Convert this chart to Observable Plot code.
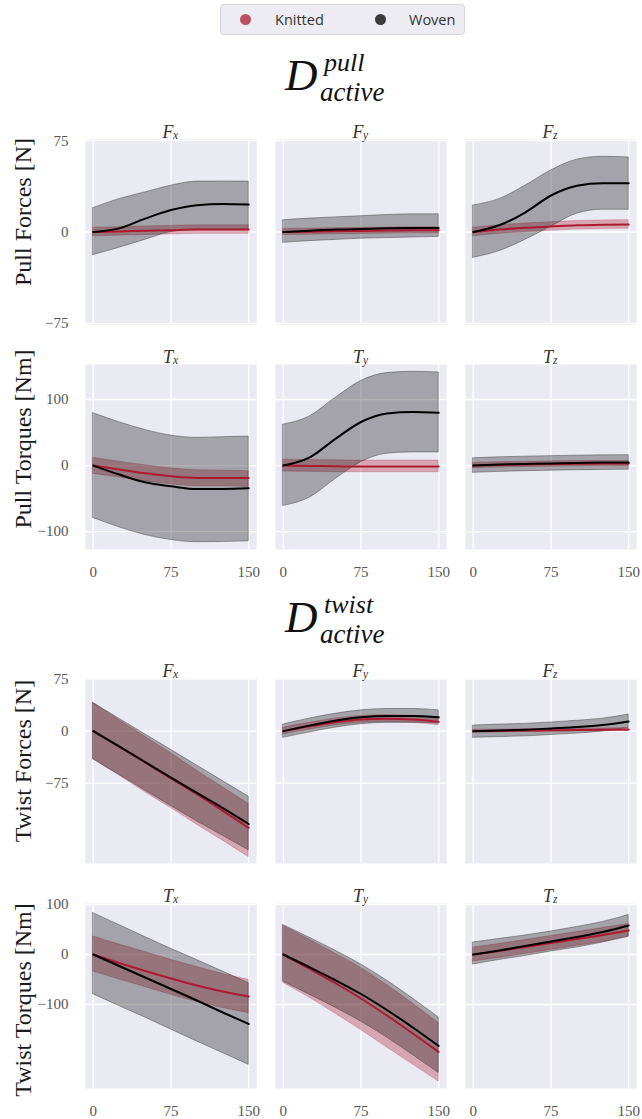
<!DOCTYPE html>
<html><head><meta charset="utf-8">
<script src="https://cdn.jsdelivr.net/npm/d3@7"></script>
<script src="https://cdn.jsdelivr.net/npm/@observablehq/plot@0.6"></script>
<style>
body{margin:0;background:#fff;}
#fig{position:relative;width:642px;height:1119px;overflow:hidden;background:#fff;}
.abs{position:absolute;left:0;}
#legend{position:absolute;left:220px;top:4px;width:243px;height:29px;background:#ECECF2;border:1px solid #D4D4DC;border-radius:4px;font-family:"Open Sans",sans-serif;font-size:14.5px;color:#333;}
#legend .dot{position:absolute;top:9px;width:11px;height:11px;border-radius:50%;}
#legend .lab{position:absolute;top:5px;line-height:19px;}
.rowlabel{font-family:"Liberation Serif",serif !important;font-size:24px !important;}
</style></head><body><div id="fig"></div>
<script>
const KNIT = "#AC1A32";
const WOVEN = "#000000";
const T = [0, 25, 50, 75, 100, 125, 150];
const xTicks = [0, 75, 150];
const groups = ["Knitted", "Woven"];

// ---- D_active^pull : forces [N]
const pullFxWovenMean = [0, 3, 11, 18, 22, 23, 22.5];
const pullFxWovenLo   = [-19, -13, -6.5, 0, 2, 2, 2];
const pullFxWovenHi   = [19.6, 27, 32.5, 38, 41.4, 41.5, 41.4];
const pullFxKnitMean  = [0, 0.5, 1, 1.5, 2, 2, 2];
const pullFxKnitLo    = [-3.5, -3, -2.5, -2, -1.5, -1.5, -1.5];
const pullFxKnitHi    = [3.5, 4, 4.5, 5, 5.5, 5.5, 5.5];

const pullFyWovenMean = [0, 1, 2, 2.5, 3, 3.2, 3.2];
const pullFyWovenLo   = [-8.9, -7.5, -6.5, -5.5, -5, -4.5, -4];
const pullFyWovenHi   = [9.7, 11, 12, 13, 14, 14.5, 14.5];
const pullFyKnitMean  = [0, 0.3, 0.6, 0.9, 1.2, 1.4, 1.5];
const pullFyKnitLo    = [-2.5, -2.2, -1.9, -1.6, -1.3, -1.1, -1];
const pullFyKnitHi    = [2.5, 2.8, 3.1, 3.4, 3.7, 3.9, 4];

const pullFzWovenMean = [0, 5.5, 16, 30, 38, 40, 40];
const pullFzWovenLo   = [-21.2, -15.8, -6.5, 4.3, 15, 18.3, 18.3];
const pullFzWovenHi   = [21.8, 27, 37.9, 50.5, 59.4, 61.8, 61.3];
const pullFzKnitMean  = [0, 2, 3.5, 4.5, 5.5, 6, 6.2];
const pullFzKnitLo    = [-3.5, -1.5, 0, 1, 2, 2.5, 2.7];
const pullFzKnitHi    = [3.5, 5.5, 7, 8, 9, 9.5, 9.7];

// ---- D_active^pull : torques [Nm]
const pullTxWovenMean = [0, -13.6, -25.3, -31.3, -35.5, -35.3, -34.3];
const pullTxWovenLo   = [-79.3, -93.4, -105, -112.6, -116, -115.6, -114.6];
const pullTxWovenHi   = [79.3, 65.7, 54, 45.5, 42, 43, 44];
const pullTxKnitMean  = [0, -6, -11.6, -16.2, -18.7, -18.7, -18.7];
const pullTxKnitLo    = [-12.6, -18, -23.6, -28.2, -31, -31, -32.8];
const pullTxKnitHi    = [11.6, 6, 0.4, -4.2, -7, -7.5, -8.6];

const pullTyWovenMean = [0, 12, 40, 66, 79, 81, 80];
const pullTyWovenLo   = [-61, -49, -21, 5, 18, 20, 20];
const pullTyWovenHi   = [62, 74, 102, 128, 140, 142, 141];
const pullTyKnitMean  = [0, -0.5, -1, -1.5, -1.5, -1.5, -1.5];
const pullTyKnitLo    = [-9, -9.5, -10, -10, -10, -10, -10];
const pullTyKnitHi    = [9, 8.5, 8, 7.6, 7.6, 7.6, 7.6];

const pullTzWovenMean = [0, 1.5, 2.5, 3.3, 4, 4.5, 4.8];
const pullTzWovenLo   = [-11, -9.5, -8.5, -7.7, -7, -6.5, -6.2];
const pullTzWovenHi   = [11, 12.5, 13.5, 14.3, 15, 15.5, 15.8];
const pullTzKnitMean  = [0, 1, 1.8, 2.4, 2.8, 3, 3];
const pullTzKnitLo    = [-4, -3, -2.2, -1.6, -1.2, -1, -1];
const pullTzKnitHi    = [4, 5, 5.8, 6.4, 6.8, 7, 7];

// ---- D_active^twist : forces [N]
const twistFxWovenMean = [0, -22, -44.5, -67, -89, -111, -134];
const twistFxWovenLo   = [-40.6, -63, -85.5, -108, -130, -151, -172];
const twistFxWovenHi   = [40.6, 18, -4.5, -27, -49.5, -72, -94.6];
const twistFxKnitMean  = [0, -22.5, -45, -68, -91, -115, -139.5];
const twistFxKnitLo    = [-40.6, -64, -88, -111, -135, -158, -181.7];
const twistFxKnitHi    = [41, 16, -8, -32, -57, -81, -105];

const twistFyWovenMean = [0, 8, 15, 20, 22, 22, 20];
const twistFyWovenLo   = [-9.6, -2, 5, 10, 12, 12, 11];
const twistFyWovenHi   = [9.6, 18, 25, 30, 32, 32, 30];
const twistFyKnitMean  = [0, 7, 13, 17, 18, 17, 13.4];
const twistFyKnitLo    = [-5, 2, 8, 12, 13, 12, 8.4];
const twistFyKnitHi    = [5, 12, 18, 22, 23, 22, 18.4];

const twistFzWovenMean = [0, 1, 2, 4, 6, 9, 14];
const twistFzWovenLo   = [-9.6, -8.5, -7.5, -5.5, -3.5, -0.5, 4.8];
const twistFzWovenHi   = [8, 9.5, 10.5, 12.5, 15, 18, 24];
const twistFzKnitMean  = [0, 0.4, 0.8, 1.2, 1.6, 2, 2.4];
const twistFzKnitLo    = [-2, -1.6, -1.2, -0.8, -0.4, 0, 0.4];
const twistFzKnitHi    = [2, 2.4, 2.8, 3.2, 3.6, 4, 4.4];

// ---- D_active^twist : torques [Nm]
const twistTxWovenMean = [0, -23, -46, -69, -92, -116, -139];
const twistTxWovenLo   = [-79.3, -103, -126, -150, -174, -197, -220.7];
const twistTxWovenHi   = [82.7, 59, 35, 11.3, -11, -34, -57.3];
const twistTxKnitMean  = [0, -17, -33, -48, -62, -74, -84];
const twistTxKnitLo    = [-34, -50, -65, -80.7, -95, -107, -117.3];
const twistTxKnitHi    = [36, 20, 5, -10.7, -25, -39, -50.7];

const twistTyWovenMean = [0, -25, -51, -79, -111, -146, -183];
const twistTyWovenLo   = [-54, -80, -106, -134, -166, -201, -237];
const twistTyWovenHi   = [59, 34, 8, -20, -52, -88, -126];
const twistTyKnitMean  = [0, -28, -57, -88, -122, -158, -195];
const twistTyKnitLo    = [-57, -86, -118, -151, -186, -220, -254];
const twistTyKnitHi    = [57, 30, 2, -27, -61, -98, -137];

const twistTzWovenMean = [0, 8, 17, 26, 35, 45, 58];
const twistTzWovenLo   = [-20, -11, -3, 6, 14, 24, 36];
const twistTzWovenHi   = [24, 31, 38, 46, 55, 65, 79];
const twistTzKnitMean  = [0, 7, 15, 23, 31, 39, 48];
const twistTzKnitLo    = [-14, -7, 1, 9, 17, 25, 35];
const twistTzKnitHi    = [14, 21, 29, 37, 45, 53, 61];

// ---- rows
const rowLabels = ["Pull Forces [N]", "Pull Torques [Nm]", "Twist Forces [N]", "Twist Torques [Nm]"];
const rowLetters = ["F", "T", "F", "T"];
const rowTicks = [[-75, 0, 75], [-100, 0, 100], [-75, 0, 75], [-100, 0, 100]];
const rowDomains = [[-76, 76], [-127, 153], [-191, 76], [-268, 102]];
const axisNames = ["x", "y", "z"];

function series(panel, wm, wl, wh, km, kl, kh) {
  const out = [];
  T.forEach((t, i) => {
    out.push({panel, group: "Woven", t, mean: wm[i], lo: wl[i], hi: wh[i]});
    out.push({panel, group: "Knitted", t, mean: km[i], lo: kl[i], hi: kh[i]});
  });
  return out;
}
const rowData = [
  [...series("x", pullFxWovenMean, pullFxWovenLo, pullFxWovenHi, pullFxKnitMean, pullFxKnitLo, pullFxKnitHi),
   ...series("y", pullFyWovenMean, pullFyWovenLo, pullFyWovenHi, pullFyKnitMean, pullFyKnitLo, pullFyKnitHi),
   ...series("z", pullFzWovenMean, pullFzWovenLo, pullFzWovenHi, pullFzKnitMean, pullFzKnitLo, pullFzKnitHi)],
  [...series("x", pullTxWovenMean, pullTxWovenLo, pullTxWovenHi, pullTxKnitMean, pullTxKnitLo, pullTxKnitHi),
   ...series("y", pullTyWovenMean, pullTyWovenLo, pullTyWovenHi, pullTyKnitMean, pullTyKnitLo, pullTyKnitHi),
   ...series("z", pullTzWovenMean, pullTzWovenLo, pullTzWovenHi, pullTzKnitMean, pullTzKnitLo, pullTzKnitHi)],
  [...series("x", twistFxWovenMean, twistFxWovenLo, twistFxWovenHi, twistFxKnitMean, twistFxKnitLo, twistFxKnitHi),
   ...series("y", twistFyWovenMean, twistFyWovenLo, twistFyWovenHi, twistFyKnitMean, twistFyKnitLo, twistFyKnitHi),
   ...series("z", twistFzWovenMean, twistFzWovenLo, twistFzWovenHi, twistFzKnitMean, twistFzKnitLo, twistFzKnitHi)],
  [...series("x", twistTxWovenMean, twistTxWovenLo, twistTxWovenHi, twistTxKnitMean, twistTxKnitLo, twistTxKnitHi),
   ...series("y", twistTyWovenMean, twistTyWovenLo, twistTyWovenHi, twistTyKnitMean, twistTyKnitLo, twistTyKnitHi),
   ...series("z", twistTzWovenMean, twistTzWovenLo, twistTzWovenHi, twistTzKnitMean, twistTzKnitLo, twistTzKnitHi)]
];

// layout (style only)
const rowTop = [110, 335, 649, 874];
const rowMB = [6, 35, 6, 31];
const rowHasX = [false, true, false, true];
const rowLabelDy = [-20, -18, -10, 4];

const fig = document.getElementById("fig");

function rowPlot(r) {
  const data = rowData[r];
  const woven = data.filter(d => d.group === "Woven");
  const knit = data.filter(d => d.group === "Knitted");
  const panels = axisNames.map(p => ({panel: p}));
  const marks = [
    Plot.frame({fill: "#EAEAF2"}),
    Plot.gridX({ticks: xTicks, stroke: "#fff", strokeOpacity: 1, strokeWidth: 1.3}),
    Plot.gridY({ticks: rowTicks[r], stroke: "#fff", strokeOpacity: 1, strokeWidth: 1.3}),
    Plot.areaY(knit, {fx: "panel", x: "t", y1: "lo", y2: "hi", curve: "monotone-x", fill: KNIT, fillOpacity: 0.33, stroke: KNIT, strokeOpacity: 0.3, strokeWidth: 0.8}),
    Plot.areaY(woven, {fx: "panel", x: "t", y1: "lo", y2: "hi", curve: "monotone-x", fill: WOVEN, fillOpacity: 0.3, stroke: "#333", strokeOpacity: 0.55, strokeWidth: 0.8}),
    Plot.lineY(knit, {fx: "panel", x: "t", y: "mean", curve: "monotone-x", stroke: KNIT, strokeWidth: 2}),
    Plot.lineY(woven, {fx: "panel", x: "t", y: "mean", curve: "monotone-x", stroke: WOVEN, strokeWidth: 2}),
    Plot.axisY({ticks: rowTicks[r], tickSize: 0, tickPadding: 17, label: null, fill: "#555", fontSize: 15}),
    Plot.text(panels, {fx: "panel", frameAnchor: "top", dy: -14, dx: -3, text: () => rowLetters[r], fontStyle: "italic", fontSize: 18, fill: "#333"}),
    Plot.text(panels, {fx: "panel", frameAnchor: "top", dy: -9, dx: 2, text: "panel", textAnchor: "start", fontStyle: "italic", fontSize: 11.5, fill: "#333"}),
    Plot.text([{panel: "x"}], {fx: "panel", frameAnchor: "left", textAnchor: "middle", lineAnchor: "middle", rotate: -90, dx: -62, dy: rowLabelDy[r], text: () => rowLabels[r], fontSize: "24px", fontFamily: "Liberation Serif", fill: "#1a1a1a", className: "rowlabel"})
  ];
  if (rowHasX[r]) marks.push(Plot.axisX({ticks: xTicks, tickSize: 0, tickPadding: 17, label: null, fill: "#555", fontSize: 15}));
  const svg = Plot.plot({
    width: 642,
    height: 29 + 185 + rowMB[r],
    marginLeft: 85, marginRight: 6, marginTop: 29, marginBottom: rowMB[r],
    style: {fontFamily: "'Liberation Serif', serif", fontSize: "15px", background: "transparent", overflow: "visible"},
    fx: {domain: axisNames, paddingInner: 0.1, paddingOuter: 0, axis: null, label: null},
    x: {domain: [-7.5, 157.5], axis: null},
    y: {domain: rowDomains[r], axis: null},
    marks
  });
  const wrap = document.createElement("div");
  wrap.className = "abs";
  wrap.style.top = rowTop[r] + "px";
  wrap.appendChild(svg);
  fig.appendChild(wrap);
}
[0, 1, 2, 3].forEach(rowPlot);

// section titles (math-style text)
function sectionTitle(sup, baseline) {
  const ns = "http://www.w3.org/2000/svg";
  const svg = document.createElementNS(ns, "svg");
  svg.setAttribute("width", 642); svg.setAttribute("height", 70);
  svg.style.position = "absolute"; svg.style.left = "0px"; svg.style.top = (baseline - 50) + "px";
  const mk = (txt, x, y, size) => {
    const t = document.createElementNS(ns, "text");
    t.setAttribute("x", x); t.setAttribute("y", y);
    t.setAttribute("font-family", "'Liberation Serif', serif");
    t.setAttribute("font-style", "italic");
    t.setAttribute("font-size", size);
    t.setAttribute("fill", "#111");
    t.textContent = txt;
    svg.appendChild(t);
  };
  mk("D", 285, 50, 45);
  mk(sup, 324, 31, 26);
  mk("active", 320, 61, 27);
  fig.appendChild(svg);
}
sectionTitle("pull", 90);
sectionTitle("twist", 632);

// legend
const legend = document.createElement("div");
legend.id = "legend";
const legendX = [{dot: 19, lab: 54}, {dot: 154, lab: 188}];
groups.forEach((g, i) => {
  const d = document.createElement("div");
  d.className = "dot";
  d.style.left = legendX[i].dot + "px";
  d.style.background = g === "Knitted" ? KNIT : WOVEN;
  d.style.opacity = 0.75;
  legend.appendChild(d);
  const l = document.createElement("div");
  l.className = "lab";
  l.style.left = legendX[i].lab + "px";
  l.textContent = g;
  legend.appendChild(l);
});
fig.appendChild(legend);
</script></body></html>
